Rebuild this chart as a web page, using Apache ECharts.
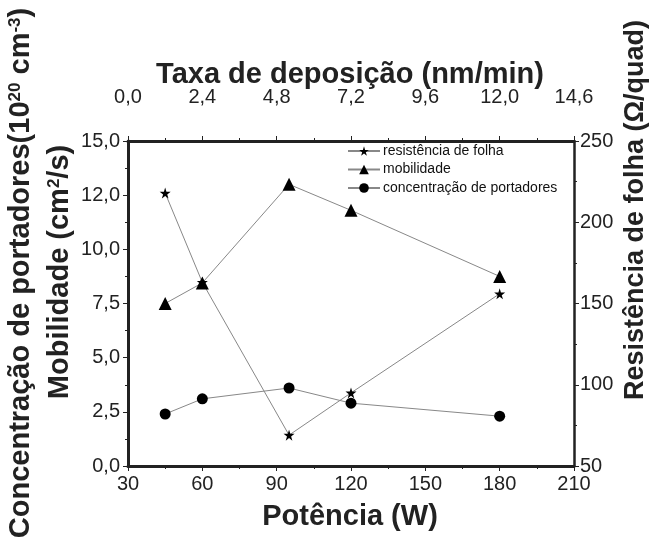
<!DOCTYPE html>
<html>
<head>
<meta charset="utf-8">
<script src="https://cdn.jsdelivr.net/npm/echarts@6/dist/echarts.min.js"></script>
<style>
html,body{margin:0;padding:0;background:#fff;}
#c{width:654px;height:547px;}
</style>
</head>
<body>
<div id="c"></div>
<script>
// Data
var potencia = [45, 60, 95, 120, 180];
var resistencia = [218, 163, 69, 95, 156];
var mobilidade = [7.5, 8.45, 13.0, 11.8, 8.75];
var concentracao = [2.4, 3.1, 3.6, 2.9, 2.3];

// Tick labels
var leftLabels = ['0,0', '2,5', '5,0', '7,5', '10,0', '12,0', '15,0'];
var topLabels = ['0,0', '2,4', '4,8', '7,2', '9,6', '12,0', '14,6'];
var seriesNames = ['resistência de folha', 'mobilidade', 'concentração de portadores'];

var FONT = '"Liberation Sans", Arial, Helvetica, sans-serif';
var STAR = 'path://M50,0 L61,35 L98,35 L68,57 L79,91 L50,70 L21,91 L32,57 L2,35 L39,35 Z';
var axisColor = '#222';

function pairs(xs, ys) { return xs.map(function (x, i) { return [x, ys[i]]; }); }

var chart = echarts.init(document.getElementById('c'));
var tickLabel = { color: '#222', fontSize: 20, fontFamily: FONT };

chart.setOption({
  backgroundColor: '#fff',
  animation: false,
  grid: { left: 128, right: 80, top: 141, bottom: 81 },
  legend: {
    orient: 'vertical',
    left: 342, top: 139,
    itemWidth: 32, itemHeight: 12, itemGap: 4.5,
    textStyle: { fontFamily: FONT, fontSize: 14, color: '#111', lineHeight: 13, padding: [0, 0, 0, -2] },
    data: seriesNames
  },
  xAxis: [
    {
      type: 'value', position: 'bottom', min: 30, max: 210, interval: 30,
      axisLine: { show: true, onZero: false, lineStyle: { color: axisColor, width: 3 } },
      axisTick: { show: true, length: 5, lineStyle: { color: axisColor, width: 1 } },
      minorTick: { show: true, splitNumber: 2, length: 3, lineStyle: { color: axisColor } },
      splitLine: { show: false },
      axisLabel: Object.assign({ margin: 8 }, tickLabel)
    },
    {
      type: 'value', position: 'top', min: 30, max: 210, interval: 30,
      axisLine: { show: true, onZero: false, lineStyle: { color: axisColor, width: 3 } },
      axisTick: { show: true, length: 5, lineStyle: { color: axisColor, width: 1 } },
      minorTick: { show: true, splitNumber: 2, length: 3, lineStyle: { color: axisColor } },
      splitLine: { show: false },
      axisLabel: Object.assign({
        margin: 34,
        formatter: function (v) { return topLabels[Math.round((v - 30) / 30)]; }
      }, tickLabel)
    }
  ],
  yAxis: [
    {
      type: 'value', position: 'left', min: 0, max: 15, interval: 2.5,
      axisLine: { show: true, onZero: false, lineStyle: { color: axisColor, width: 3 } },
      axisTick: { show: true, length: 5, lineStyle: { color: axisColor, width: 1 } },
      minorTick: { show: true, splitNumber: 2, length: 3, lineStyle: { color: axisColor } },
      splitLine: { show: false },
      axisLabel: Object.assign({
        margin: 8,
        formatter: function (v) { return leftLabels[Math.round(v / 2.5)]; }
      }, tickLabel)
    },
    {
      type: 'value', position: 'right', min: 50, max: 250, interval: 50,
      axisLine: { show: true, onZero: false, lineStyle: { color: axisColor, width: 2.5 } },
      axisTick: { show: true, length: 5, lineStyle: { color: axisColor, width: 1 } },
      minorTick: { show: true, splitNumber: 2, length: 3, lineStyle: { color: axisColor } },
      splitLine: { show: false },
      axisLabel: Object.assign({ margin: 6 }, tickLabel)
    }
  ],
  series: [
    {
      name: seriesNames[0], type: 'line', xAxisIndex: 0, yAxisIndex: 1,
      data: pairs(potencia, resistencia),
      symbol: STAR, symbolSize: 11,
      lineStyle: { color: '#888', width: 1 },
      itemStyle: { color: '#000', borderWidth: 0 }
    },
    {
      name: seriesNames[1], type: 'line', xAxisIndex: 0, yAxisIndex: 0,
      data: pairs(potencia, mobilidade),
      symbol: 'triangle', symbolSize: 13,
      lineStyle: { color: '#888', width: 1 },
      itemStyle: { color: '#000', borderWidth: 0 }
    },
    {
      name: seriesNames[2], type: 'line', xAxisIndex: 0, yAxisIndex: 0,
      data: pairs(potencia, concentracao),
      symbol: 'circle', symbolSize: 11,
      lineStyle: { color: '#888', width: 1 },
      itemStyle: { color: '#000', borderWidth: 0 }
    }
  ],
  graphic: [
    {
      type: 'text', x: 350, y: 75,
      style: { text: 'Taxa de deposição (nm/min)', font: 'bold 29px ' + FONT, fill: '#222', align: 'center', verticalAlign: 'middle' }
    },
    {
      type: 'text', x: 350, y: 517,
      style: { text: 'Potência (W)', font: 'bold 29px ' + FONT, fill: '#222', align: 'center', verticalAlign: 'middle' }
    },
    {
      type: 'text', x: 21, y: 273, rotation: Math.PI / 2,
      style: {
        text: '{m|Concentração de portadores(10}{s|20}{m| cm}{s|-3}{m|)}',
        align: 'center', verticalAlign: 'middle',
        rich: {
          m: { font: 'bold 29px ' + FONT, fill: '#222', verticalAlign: 'bottom' },
          s: { font: 'bold 17px ' + FONT, fill: '#222', verticalAlign: 'top' }
        }
      }
    },
    {
      type: 'text', x: 60, y: 272, rotation: Math.PI / 2,
      style: {
        text: '{m|Mobilidade (cm}{s|2}{m|/s)}',
        align: 'center', verticalAlign: 'middle',
        rich: {
          m: { font: 'bold 29px ' + FONT, fill: '#222', verticalAlign: 'bottom' },
          s: { font: 'bold 17px ' + FONT, fill: '#222', verticalAlign: 'top' }
        }
      }
    },
    {
      type: 'text', x: 636, y: 210, rotation: Math.PI / 2,
      style: { text: 'Resistência de folha (Ω/quad)', font: 'bold 27px ' + FONT, fill: '#222', align: 'center', verticalAlign: 'middle' }
    }
  ]
});
</script>
</body>
</html>
